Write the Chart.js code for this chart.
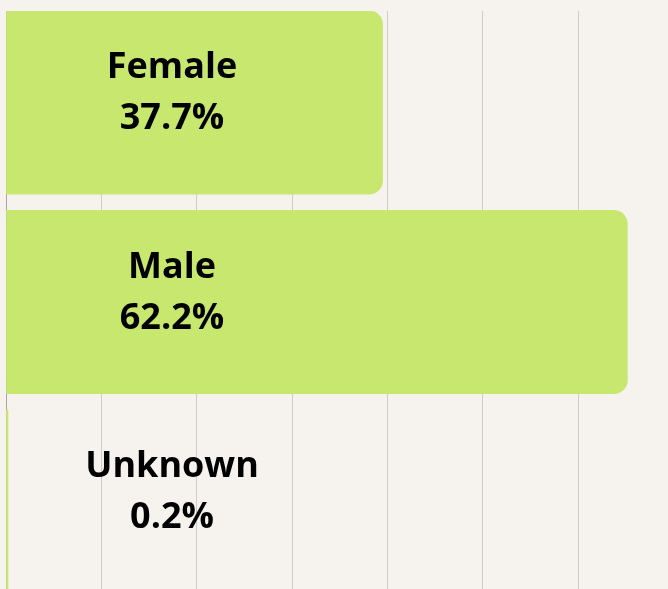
<!DOCTYPE html>
<html>
<head>
<meta charset="utf-8">
<script src="https://cdn.jsdelivr.net/npm/chart.js@4"></script>
<style>
  html, body { margin: 0; padding: 0; background: #f6f3ef; overflow: hidden; }
  #wrap { position: relative; width: 700px; height: 589px; }
</style>
</head>
<body>
<div id="wrap"><canvas id="genderChart"></canvas></div>
<script>
const categories = ['Female', 'Male', 'Unknown'];
const shares = [37.7, 62.2, 0.2]; // percent of total
const positions = [0, 1, 2];

const barLabels = {
    id: 'barLabels',
    afterDatasetsDraw(chart) {
        const ctx = chart.ctx;
        const meta = chart.getDatasetMeta(0);
        ctx.save();
        ctx.font = 'bold 36px "Open Sans"';
        ctx.fillStyle = '#000';
        ctx.textAlign = 'center';
        ctx.textBaseline = 'alphabetic';
        meta.data.forEach((bar, i) => {
            const x = 172;
            ctx.fillText(categories[i], x, bar.y - 24);
            ctx.fillText(shares[i].toFixed(1) + '%', x, bar.y + 27);
        });
        ctx.restore();
    }
};

const ctx = document.getElementById('genderChart').getContext('2d');
new Chart(ctx, {
    type: 'bar',
    data: {
        datasets: [{
            data: shares.map((v, i) => ({ x: v, y: positions[i] })),
            backgroundColor: '#c7e76f',
            borderRadius: 14,
            borderSkipped: 'start',
            barThickness: 183.5
        }]
    },
    options: {
        indexAxis: 'y',
        responsive: true,
        maintainAspectRatio: false,
        animation: false,
        layout: { padding: { top: 11, left: 6, right: 0, bottom: 0 } },
        scales: {
            x: {
                type: 'linear',
                min: 0,
                max: 69.47,
                ticks: { display: false, stepSize: 9.543 },
                grid: {
                    drawTicks: false,
                    color: (c) => c.tick && c.tick.value === 0 ? '#a9a6a3' : '#cfcbc7'
                },
                border: { display: false }
            },
            y: {
                type: 'linear',
                reverse: true,
                offset: false,
                min: -0.4586,
                max: 2.4386,
                display: false
            }
        },
        plugins: {
            legend: { display: false },
            tooltip: { enabled: false },
            title: { display: false }
        }
    },
    plugins: [barLabels]
});
</script>
</body>
</html>
